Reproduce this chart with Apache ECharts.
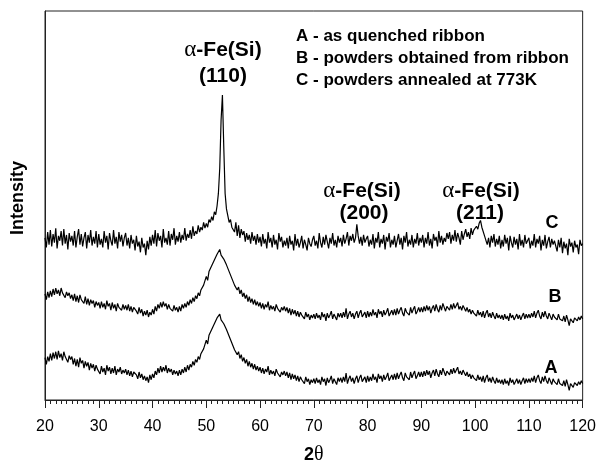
<!DOCTYPE html>
<html>
<head>
<meta charset="utf-8">
<script src="https://cdn.jsdelivr.net/npm/echarts@6/dist/echarts.min.js"></script>
<style>
html,body{margin:0;padding:0;background:#fff;}
#chart{width:599px;height:470px;}
</style>
</head>
<body>
<div id="chart"></div>
<script>
// 2θ sampling: 20° to 120° in 0.25° steps
const angleStart = 20;
const angleStep = 0.25;
const xTickLabels = ['20','30','40','50','60','70','80','90','100','110','120'];

// A - as quenched ribbon
const seriesA = [
44,37,45,40,48,41,49,43,50,42,51,44,48,41,50,45,47,39,46,42,
45,37,43,35,42,34,44,38,41,33,40,35,39,31,38,33,37,30,36,32,
34,27,35,29,33,26,36,30,34,27,33,28,35,26,32,29,34,27,31,28,
32,26,31,25,30,24,29,27,26,22,29,23,27,21,25,20,24,18,26,21,
27,23,30,26,33,28,35,29,34,30,36,28,33,29,32,26,31,27,30,25,
31,26,32,28,34,29,36,31,37,34,40,36,42,39,45,42,48,46,53,51,
62,58,67,65,73,72,79,78,85,84,89,83,84,79,80,73,74,66,67,59,
58,52,54,47,50,43,47,40,44,38,42,35,40,34,38,32,37,31,35,30,
34,28,33,27,32,29,35,26,31,27,30,25,32,28,30,24,29,26,30,25,
29,23,28,21,27,22,26,20,25,19,24,21,23,17,24,19,22,16,21,18,
22,17,23,18,21,16,24,19,22,15,23,18,21,25,17,22,19,16,23,19,
23,18,24,19,28,17,22,25,19,23,17,22,25,18,23,26,19,21,24,18,
25,19,24,20,27,21,24,18,27,22,25,19,26,21,24,28,20,23,26,21,
27,21,28,22,26,29,23,20,28,24,26,21,29,23,27,30,22,25,29,24,
29,24,30,25,31,26,30,23,28,31,25,32,27,24,31,26,33,29,25,30,
31,26,32,27,33,28,31,34,27,30,26,31,28,25,29,24,27,22,26,23,
25,20,26,21,24,19,25,18,23,26,19,23,18,24,20,17,23,18,21,17,
21,16,22,17,20,15,23,18,21,16,19,22,17,21,16,20,23,17,22,18,
22,18,23,19,25,18,23,26,20,17,24,19,25,20,17,23,21,16,22,19,
21,16,22,17,19,15,20,14,21,16,10,17,19,13,18,20,15,19,16,20,
17
];

// B - powders obtained from ribbon
const seriesB = [
110,104,112,106,113,107,115,109,116,110,114,108,116,111,113,106,112,108,111,105,
109,103,110,102,108,101,109,104,106,100,107,99,105,98,104,100,103,96,102,98,
101,95,102,96,100,94,103,97,100,93,101,95,99,92,100,96,98,93,99,94,
98,93,99,92,97,91,96,94,92,89,96,90,94,87,92,88,93,86,91,88,
94,89,97,92,99,95,101,96,102,97,100,94,99,95,97,92,98,93,96,91,
97,92,99,95,100,96,102,98,104,100,106,102,108,105,111,108,114,112,119,117,
128,124,133,131,139,138,145,144,151,150,156,150,151,146,147,140,141,133,134,126,
125,119,121,114,117,110,114,107,111,105,109,102,107,101,105,99,104,98,102,97,
101,95,100,94,99,96,102,93,98,94,97,92,99,95,97,91,96,93,97,92,
96,90,95,88,94,89,93,87,92,86,91,88,90,84,91,86,89,83,88,85,
89,84,90,85,88,83,91,86,89,82,90,85,88,92,84,89,86,83,90,86,
90,85,91,86,95,84,89,92,86,90,84,89,92,85,90,93,86,88,91,85,
92,86,91,87,94,88,91,85,94,89,92,86,93,88,91,95,87,90,93,88,
94,88,95,89,93,96,90,87,95,91,93,88,96,90,94,97,89,92,96,91,
96,91,97,92,98,93,97,90,95,98,92,99,94,91,98,93,100,96,92,97,
98,93,99,94,100,95,98,101,94,97,93,98,95,92,96,91,94,89,93,90,
92,87,93,88,91,86,92,85,90,93,86,90,85,91,87,84,90,85,88,84,
88,83,89,84,87,82,90,85,88,83,86,89,84,88,83,87,90,84,89,85,
89,85,90,86,92,85,90,93,87,84,91,86,92,87,84,90,88,83,89,86,
88,83,89,84,86,82,87,81,88,83,77,84,86,80,85,87,82,86,83,87,
84
];

// C - powders annealed at 773K
const seriesC = [
168,158,174,161,176,159,172,163,178,157,170,165,175,160,177,162,171,156,173,164,
170,160,175,158,169,177,161,172,159,168,174,157,171,163,176,160,169,162,175,158,
172,161,167,158,175,163,170,156,173,165,160,176,162,169,157,174,164,171,159,168,
173,160,168,157,171,162,166,155,170,159,164,153,168,158,162,150,165,156,169,160,
171,162,176,159,173,165,170,158,177,163,168,161,175,160,172,166,178,161,170,164,
174,163,171,166,178,165,172,168,176,167,180,170,175,172,181,174,179,176,184,178,
183,179,187,184,190,186,195,192,201,214,240,290,316,262,214,198,191,184,187,179,
180,174,184,170,181,168,177,171,175,164,173,166,171,162,174,165,170,161,172,163,
169,159,172,162,167,157,174,163,168,158,171,161,166,156,173,164,169,158,165,160,
168,157,170,161,165,155,172,160,167,158,163,170,157,166,161,155,168,162,159,166,
170,160,165,157,173,163,158,169,161,171,164,157,168,162,173,160,166,158,170,163,
168,159,171,162,167,174,160,170,165,172,163,168,182,170,162,169,160,171,163,167,
170,159,166,161,172,157,168,163,174,158,167,162,171,156,169,164,173,158,166,161,
170,158,165,172,161,168,156,170,163,174,159,166,161,171,158,167,162,173,160,168,
163,171,158,168,162,174,160,167,157,172,165,169,159,175,163,170,161,168,164,173,
167,174,162,171,165,176,164,173,168,161,175,166,172,177,169,174,167,178,171,176,
174,180,177,183,186,179,177,170,172,161,168,158,170,163,172,159,167,161,170,157,
166,159,171,162,168,155,170,163,158,169,161,167,156,172,160,166,158,171,162,165,
168,157,165,160,172,158,167,162,170,155,166,160,171,157,164,169,158,167,161,165,
163,154,166,158,168,152,164,157,162,150,167,159,163,153,165,158,161,151,166,160,
162
];

function pairs(values) {
  return values.map((v, i) => [angleStart + i * angleStep, v]);
}

const FONT = '"Liberation Sans", Arial, sans-serif';
const SERIF = '"Liberation Serif", "Times New Roman", serif';

const chart = echarts.init(document.getElementById('chart'), null, {renderer: 'canvas'});

function lineSeries(name, values) {
  return {
    name: name,
    type: 'line',
    data: pairs(values),
    showSymbol: false,
    symbol: 'none',
    sampling: null,
    lineStyle: {color: '#000', width: 1.2},
    animation: false,
    z: 3
  };
}

function peakLabel(x, y) {
  return {
    type: 'text',
    x: x, y: y,
    style: {
      text: '{g|α}-Fe(Si)',
      font: 'bold 21px ' + FONT,
      fill: '#000',
      align: 'center',
      verticalAlign: 'middle',
      rich: {g: {fontFamily: SERIF, fontWeight: 'normal', fontSize: 23, fill: '#000'}}
    }
  };
}
function plainText(text, x, y, size, align) {
  return {
    type: 'text', x: x, y: y,
    style: {text: text, font: 'bold ' + size + 'px ' + FONT, fill: '#000',
            align: align || 'center', verticalAlign: 'middle'}
  };
}

const lengthsOk = seriesA.length === 401 && seriesB.length === 401 && seriesC.length === 401;

chart.setOption({
  backgroundColor: '#fff',
  animation: false,
  grid: {left: 45, right: 14, top: 11, bottom: 56, show: true, borderColor: '#222', borderWidth: 1},
  xAxis: {
    type: 'value',
    min: 20, max: 120, interval: 10,
    axisLine: {show: true, lineStyle: {color: '#222', width: 1}},
    axisTick: {show: true, length: 8, inside: false, lineStyle: {color: '#222'}},
    minorTick: {show: true, splitNumber: 10, length: 4, lineStyle: {color: '#222'}},
    splitLine: {show: false},
    axisLabel: {
      color: '#000', fontSize: 16, fontFamily: FONT, margin: 19,
      formatter: function (v) { const s = String(Math.round(v)); return xTickLabels.indexOf(s) >= 0 ? s : ''; }
    },
    name: '{n|2}{t|θ}',
    nameLocation: 'middle',
    nameGap: 45,
    nameTextStyle: {
      rich: {
        n: {fontFamily: FONT, fontWeight: 'bold', fontSize: 18, color: '#000'},
        t: {fontFamily: SERIF, fontWeight: 'normal', fontSize: 20, color: '#000'}
      }
    }
  },
  yAxis: {
    type: 'value',
    min: 0, max: 403,
    axisLine: {show: true, lineStyle: {color: '#222'}},
    axisTick: {show: false},
    axisLabel: {show: false},
    splitLine: {show: false}
  },
  series: [
    lineSeries('A', seriesA),
    lineSeries('B', seriesB),
    lineSeries('C', seriesC)
  ],
  graphic: [
    {
      type: 'text', x: 18, y: 198, rotation: Math.PI / 2,
      style: {text: 'Intensity', font: 'bold 18px ' + FONT, fill: '#000', align: 'center', verticalAlign: 'middle'}
    },
    peakLabel(223, 50),
    plainText('(110)', 223, 76, 21),
    peakLabel(362, 191),
    plainText('(200)', 364, 213, 21),
    peakLabel(481, 191),
    plainText('(211)', 480, 213, 21),
    plainText('C', 552, 223, 18),
    plainText('B', 555, 297, 18),
    plainText('A', 551, 368, 18),
    plainText('A - as quenched ribbon', 296, 36, 17, 'left'),
    plainText('B - powders obtained from ribbon', 296, 58, 17, 'left'),
    plainText('C - powders annealed at 773K', 296, 80, 17, 'left')
  ].concat(lengthsOk ? [] : [plainText('LENGTH MISMATCH', 300, 300, 20)])
});
</script>
</body>
</html>
